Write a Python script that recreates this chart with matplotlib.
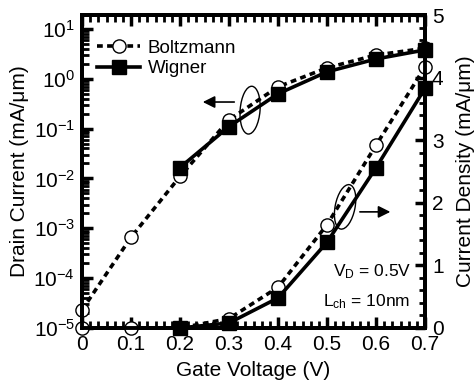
import numpy as np
import matplotlib
matplotlib.use("Agg")
import matplotlib.pyplot as plt
from matplotlib.patches import Ellipse
from matplotlib.ticker import AutoMinorLocator, LogLocator, NullFormatter, FixedLocator

plt.rcParams["font.family"] = ["Liberation Sans", "DejaVu Sans"]
plt.rcParams["mathtext.fontset"] = "custom"
plt.rcParams["mathtext.rm"] = "Liberation Sans"
plt.rcParams["mathtext.it"] = "Liberation Sans"

# gate voltage (V)
vg = [0.0, 0.1, 0.2, 0.3, 0.4, 0.5, 0.6, 0.7]
vg_w = [0.2, 0.3, 0.4, 0.5, 0.6, 0.7]

# drain current, log axis (mA/um)
boltz_log = [2.3e-5, 6.6e-4, 1.1e-2, 0.15, 0.69, 1.66, 3.0, 4.1]
wig_log = [1.66e-2, 0.11, 0.5, 1.38, 2.5, 3.8]

# current density, linear axis (mA/um)
boltz_lin = [0.0, 0.0, 0.0, 0.15, 0.65, 1.65, 2.92, 4.17]
wig_lin = [0.0, 0.08, 0.48, 1.37, 2.56, 3.83]

xtick_labels = ["0", "0.1", "0.2", "0.3", "0.4", "0.5", "0.6", "0.7"]

fig = plt.figure(figsize=(4.76, 3.92), dpi=100)
ax = fig.add_axes([0.1723, 0.1633, 0.7206, 0.7984])
ax2 = ax.twinx()

dash = (0, (1.6, 1.2))
bst = dict(color="black", lw=2.6, linestyle=dash, marker="o", ms=9.5,
           mfc="white", mec="black", mew=1.0, clip_on=False)
wst = dict(color="black", lw=2.6, linestyle="-", marker="s", ms=9.5,
           mfc="black", mec="black", clip_on=False)

l1, = ax.plot(vg, boltz_log, label="Boltzmann", **bst)
l2, = ax.plot(vg_w, wig_log, label="Wigner", **wst)
ax2.plot(vg, boltz_lin, **bst)
ax2.plot(vg_w, wig_lin, **wst)

ax.set_yscale("log")
ax.set_ylim(1e-5, 10 ** 1.28)
ax.set_xlim(0, 0.7)
ax2.set_ylim(0, 5)

ax.set_xticks(vg)
ax.set_xticklabels(xtick_labels)
ax.xaxis.set_minor_locator(AutoMinorLocator(6))
ax.yaxis.set_major_locator(FixedLocator([1e-5, 1e-4, 1e-3, 1e-2, 1e-1, 1e0, 1e1]))
ax.yaxis.set_minor_locator(LogLocator(base=10, subs=np.arange(2, 10), numticks=20))
ax.yaxis.set_minor_formatter(NullFormatter())
ax2.set_yticks([0, 1, 2, 3, 4, 5])
ax2.yaxis.set_minor_locator(AutoMinorLocator(5))

for a in (ax, ax2):
    for s in a.spines.values():
        s.set_linewidth(2.8)
ax.tick_params(axis="both", which="major", direction="in", length=8, width=2.5,
               labelsize=15, top=True, pad=5)
ax.tick_params(axis="both", which="minor", direction="in", length=5, width=2, top=True)
ax.tick_params(axis="x", which="major", pad=5)
ax2.tick_params(axis="y", which="major", direction="in", length=7, width=2.5,
                labelsize=15, pad=5)
ax2.tick_params(axis="y", which="minor", direction="in", length=4, width=2)

ax.set_xlabel("Gate Voltage (V)", fontsize=15, labelpad=5)
ax.set_ylabel("Drain Current (mA/\u03bcm)", fontsize=15, labelpad=3)
ax2.set_ylabel("Current Density (mA/\u03bcm)", fontsize=15, labelpad=9)

ax.legend(handles=[l1, l2], loc="upper left", bbox_to_anchor=(0.0, 0.97),
          frameon=False, fontsize=13.5, handlelength=2.3, handletextpad=0.4,
          labelspacing=0.2, borderpad=0.3)

# ellipses and arrows marking which axis each pair belongs to
ax.add_patch(Ellipse((0.49, 0.696), 0.058, 0.153, angle=-4, transform=ax.transAxes,
                     fill=False, lw=1.0, color="black"))
ax.add_patch(Ellipse((0.767, 0.387), 0.058, 0.144, angle=-10, transform=ax.transAxes,
                     fill=False, lw=1.0, color="black"))
ax.annotate("", xy=(0.344, 0.722), xytext=(0.452, 0.722), xycoords="axes fraction",
            arrowprops=dict(arrowstyle="-|>", color="black", lw=1.2, mutation_scale=18))
ax.annotate("", xy=(0.907, 0.371), xytext=(0.802, 0.371), xycoords="axes fraction",
            arrowprops=dict(arrowstyle="-|>", color="black", lw=1.2, mutation_scale=18))

ax.text(0.732, 0.179, r"V$_{\mathregular{D}}$ = 0.5V", transform=ax.transAxes,
        fontsize=12.5, va="center", ha="left")
ax.text(0.703, 0.083, r"L$_{\mathregular{ch}}$ = 10nm", transform=ax.transAxes,
        fontsize=12.5, va="center", ha="left")

fig.savefig("out.png", dpi=100)
